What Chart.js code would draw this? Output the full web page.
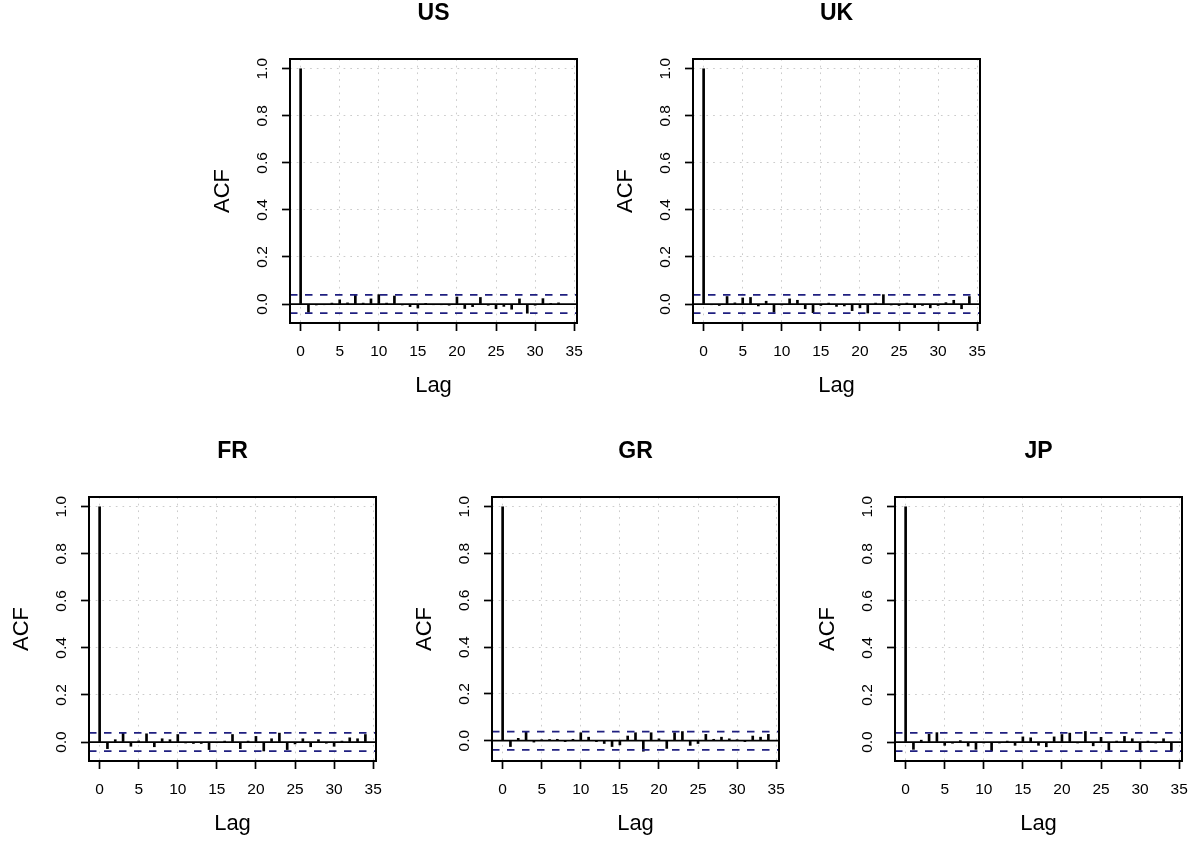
<!DOCTYPE html>
<html>
<head>
<meta charset="utf-8">
<script src="https://cdn.jsdelivr.net/npm/chart.js@4/dist/chart.umd.min.js"></script>
<style>
html, body { margin: 0; padding: 0; width: 1196px; height: 841px; overflow: hidden; background: #ffffff; }
canvas { position: absolute; }
</style>
</head>
<body>
<canvas id="p0"></canvas>
<canvas id="p1"></canvas>
<canvas id="p2"></canvas>
<canvas id="p3"></canvas>
<canvas id="p4"></canvas>
<script>
// ---------------- data ----------------
const lags = [0, 1, 2, 3, 4, 5, 6, 7, 8, 9, 10, 11, 12, 13, 14, 15, 16, 17, 18, 19, 20,
              21, 22, 23, 24, 25, 26, 27, 28, 29, 30, 31, 32, 33, 34];
const xTicks = [0, 5, 10, 15, 20, 25, 30, 35];
const yTicks = [0, 0.2, 0.4, 0.6, 0.8, 1.0];
const ciLimit = 0.039;

const panelNames = ['US', 'UK', 'FR', 'GR', 'JP'];

const acfUS = [1, -0.035, -0.004, -0.003, 0.004, 0.018, 0.005, 0.038, 0.004, 0.022, 0.040,
               0.004, 0.034, -0.004, -0.011, -0.017, 0.003, -0.003, -0.003, -0.005, 0.030,
               -0.019, -0.011, 0.028, -0.005, -0.020, -0.010, -0.022, 0.022, -0.039, -0.005,
               0.023, 0.003, 0.005, -0.002];
const acfUK = [1, -0.003, -0.006, 0.032, 0.005, 0.026, 0.028, -0.008, 0.012, -0.035, -0.004,
               0.022, 0.016, -0.020, -0.037, -0.006, 0.004, -0.010, -0.008, -0.028, -0.016,
               -0.038, 0.004, 0.040, -0.004, -0.006, 0.004, -0.015, -0.006, -0.016, -0.006,
               0.006, 0.016, -0.020, 0.032];
const acfFR = [1, -0.028, 0.010, 0.038, -0.018, 0.005, 0.035, -0.020, 0.014, 0.010, 0.032,
               -0.004, -0.006, -0.006, -0.032, -0.003, 0.004, 0.032, -0.028, 0.004, 0.024,
               -0.038, 0.014, 0.038, -0.032, -0.008, 0.014, -0.020, 0.010, -0.005, -0.018,
               0.004, 0.018, 0.014, 0.032];
const acfGR = [1, -0.025, 0.010, 0.038, -0.006, 0.004, 0.005, 0.006, -0.004, 0.006, 0.034,
               0.015, -0.004, -0.012, -0.025, -0.018, 0.020, 0.034, -0.045, 0.034, 0.008,
               -0.033, 0.034, 0.039, -0.020, -0.012, 0.027, 0.006, 0.015, 0.008, 0.004,
               -0.004, 0.020, 0.015, 0.027];
const acfJP = [1, -0.031, 0.008, 0.033, 0.040, -0.014, -0.005, 0.006, -0.017, -0.031, -0.004,
               -0.038, -0.004, 0.004, -0.014, 0.022, 0.018, -0.014, -0.020, 0.022, 0.032,
               0.038, -0.004, 0.045, -0.016, 0.020, -0.036, 0.004, 0.024, 0.014, -0.036,
               0.004, -0.004, 0.014, -0.036];

const panelSeries = [acfUS, acfUK, acfFR, acfGR, acfJP];

// ---------------- layout / style ----------------
const panelOrigins = [[200, 0], [603, 0], [-1, 438], [402, 438], [805, 438]];
const CANVAS_W = 397, CANVAS_H = 420;
const FONT = '"Liberation Sans", Arial, Helvetica, sans-serif';
Chart.defaults.font.family = FONT;
Chart.defaults.color = '#000000';

const boxPlugin = {
  id: 'plotBox',
  afterDatasetsDraw(chart) {
    const { ctx, chartArea: a } = chart;
    ctx.save();
    ctx.strokeStyle = '#000000';
    ctx.lineWidth = 2;
    ctx.setLineDash([]);
    ctx.strokeRect(Math.round(a.left), Math.round(a.top),
                   Math.round(a.right - a.left), Math.round(a.bottom - a.top));
    ctx.restore();
  }
};

function zeroPad(s) { s.paddingLeft = 0; s.paddingRight = 0; s.paddingTop = 0; s.paddingBottom = 0; }

function makePanel(idx) {
  const name = panelNames[idx];
  const values = panelSeries[idx];
  const canvas = document.getElementById('p' + idx);
  canvas.width = CANVAS_W; canvas.height = CANVAS_H;
  canvas.style.width = CANVAS_W + 'px'; canvas.style.height = CANVAS_H + 'px';
  canvas.style.left = panelOrigins[idx][0] + 'px';
  canvas.style.top = panelOrigins[idx][1] + 'px';

  const lagSpan = lags[lags.length - 1] - lags[0];
  const xMin = lags[0] - 0.04 * lagSpan;
  const xMax = lags[lags.length - 1] + 0.04 * lagSpan;
  const lo = Math.min(-ciLimit, ...values), hi = Math.max(ciLimit, ...values);
  const yMin = lo - 0.04 * (hi - lo);
  const yMax = hi + 0.04 * (hi - lo);

  const gridStyle = {
    color: '#cccccc', lineWidth: 1, offset: false, drawTicks: true,
    tickLength: 8, tickColor: '#000000', tickWidth: 1.7, tickBorderDash: []
  };

  new Chart(canvas, {
    type: 'bar',
    data: {
      datasets: [
        {
          type: 'bar', label: name,
          data: lags.map((l, i) => ({ x: l, y: values[i] })),
          backgroundColor: '#000000', borderWidth: 0, barThickness: 2,
          xAxisID: 'x', yAxisID: 'y', order: 1
        },
        {
          type: 'line', label: 'zero',
          data: [{ x: xMin, y: 0 }, { x: xMax, y: 0 }],
          borderColor: '#000000', borderWidth: 1.7, pointRadius: 0, fill: false,
          xAxisID: 'x', yAxisID: 'y', order: 2
        },
        {
          type: 'line', label: 'upper',
          data: [{ x: xMin, y: ciLimit }, { x: xMax, y: ciLimit }],
          borderColor: '#1f1f80', borderWidth: 1.7, borderDash: [7.5, 7.5],
          pointRadius: 0, fill: false, xAxisID: 'x', yAxisID: 'y', order: 0
        },
        {
          type: 'line', label: 'lower',
          data: [{ x: xMin, y: -ciLimit }, { x: xMax, y: -ciLimit }],
          borderColor: '#1f1f80', borderWidth: 1.7, borderDash: [7.5, 7.5],
          pointRadius: 0, fill: false, xAxisID: 'x', yAxisID: 'y', order: 0
        }
      ]
    },
    options: {
      responsive: false, animation: false, devicePixelRatio: 1, events: [],
      layout: { padding: { left: 0, right: 20, top: 0, bottom: 0 } },
      plugins: { legend: { display: false }, tooltip: { enabled: false }, title: { display: false } },
      scales: {
        x: {
          type: 'linear', position: 'bottom', min: xMin, max: xMax, offset: false,
          afterFit: s => { s.height = 97; zeroPad(s); },
          afterBuildTicks: s => { s.ticks = xTicks.map(v => ({ value: v })); },
          ticks: { font: { size: 15.5, lineHeight: 1.2 }, padding: 11.7, minRotation: 0, maxRotation: 0,
                   autoSkip: false, includeBounds: false, callback: v => String(v) },
          grid: gridStyle,
          border: { display: false, dash: [1.7, 5] },
          title: { display: true, text: 'Lag', font: { size: 22, lineHeight: 1.2 }, padding: { top: 0, bottom: 20.5 } }
        },
        x2: {
          type: 'linear', position: 'top', min: xMin, max: xMax, offset: false,
          afterFit: s => { s.height = 59; zeroPad(s); },
          ticks: { display: false },
          grid: { display: false, drawTicks: false },
          border: { display: false },
          title: { display: true, text: name, font: { size: 23, weight: 'bold', lineHeight: 1.2 }, padding: { top: 0, bottom: 0 } }
        },
        y: {
          type: 'linear', position: 'left', min: yMin, max: yMax,
          afterFit: s => { s.width = 90; zeroPad(s); },
          afterBuildTicks: s => { s.ticks = yTicks.map(v => ({ value: v })); },
          ticks: { font: { size: 15.5, lineHeight: 1.2 }, padding: 8.6, minRotation: 90, maxRotation: 90,
                   crossAlign: 'center', autoSkip: false, callback: v => Number(v).toFixed(1) },
          grid: gridStyle,
          border: { display: false, dash: [1.7, 5] },
          title: { display: true, text: 'ACF', font: { size: 22, lineHeight: 1.2 }, padding: { top: 9.5, bottom: 0 } }
        }
      }
    },
    plugins: [boxPlugin]
  });
}

for (let i = 0; i < panelNames.length; i++) makePanel(i);
</script>
</body>
</html>
